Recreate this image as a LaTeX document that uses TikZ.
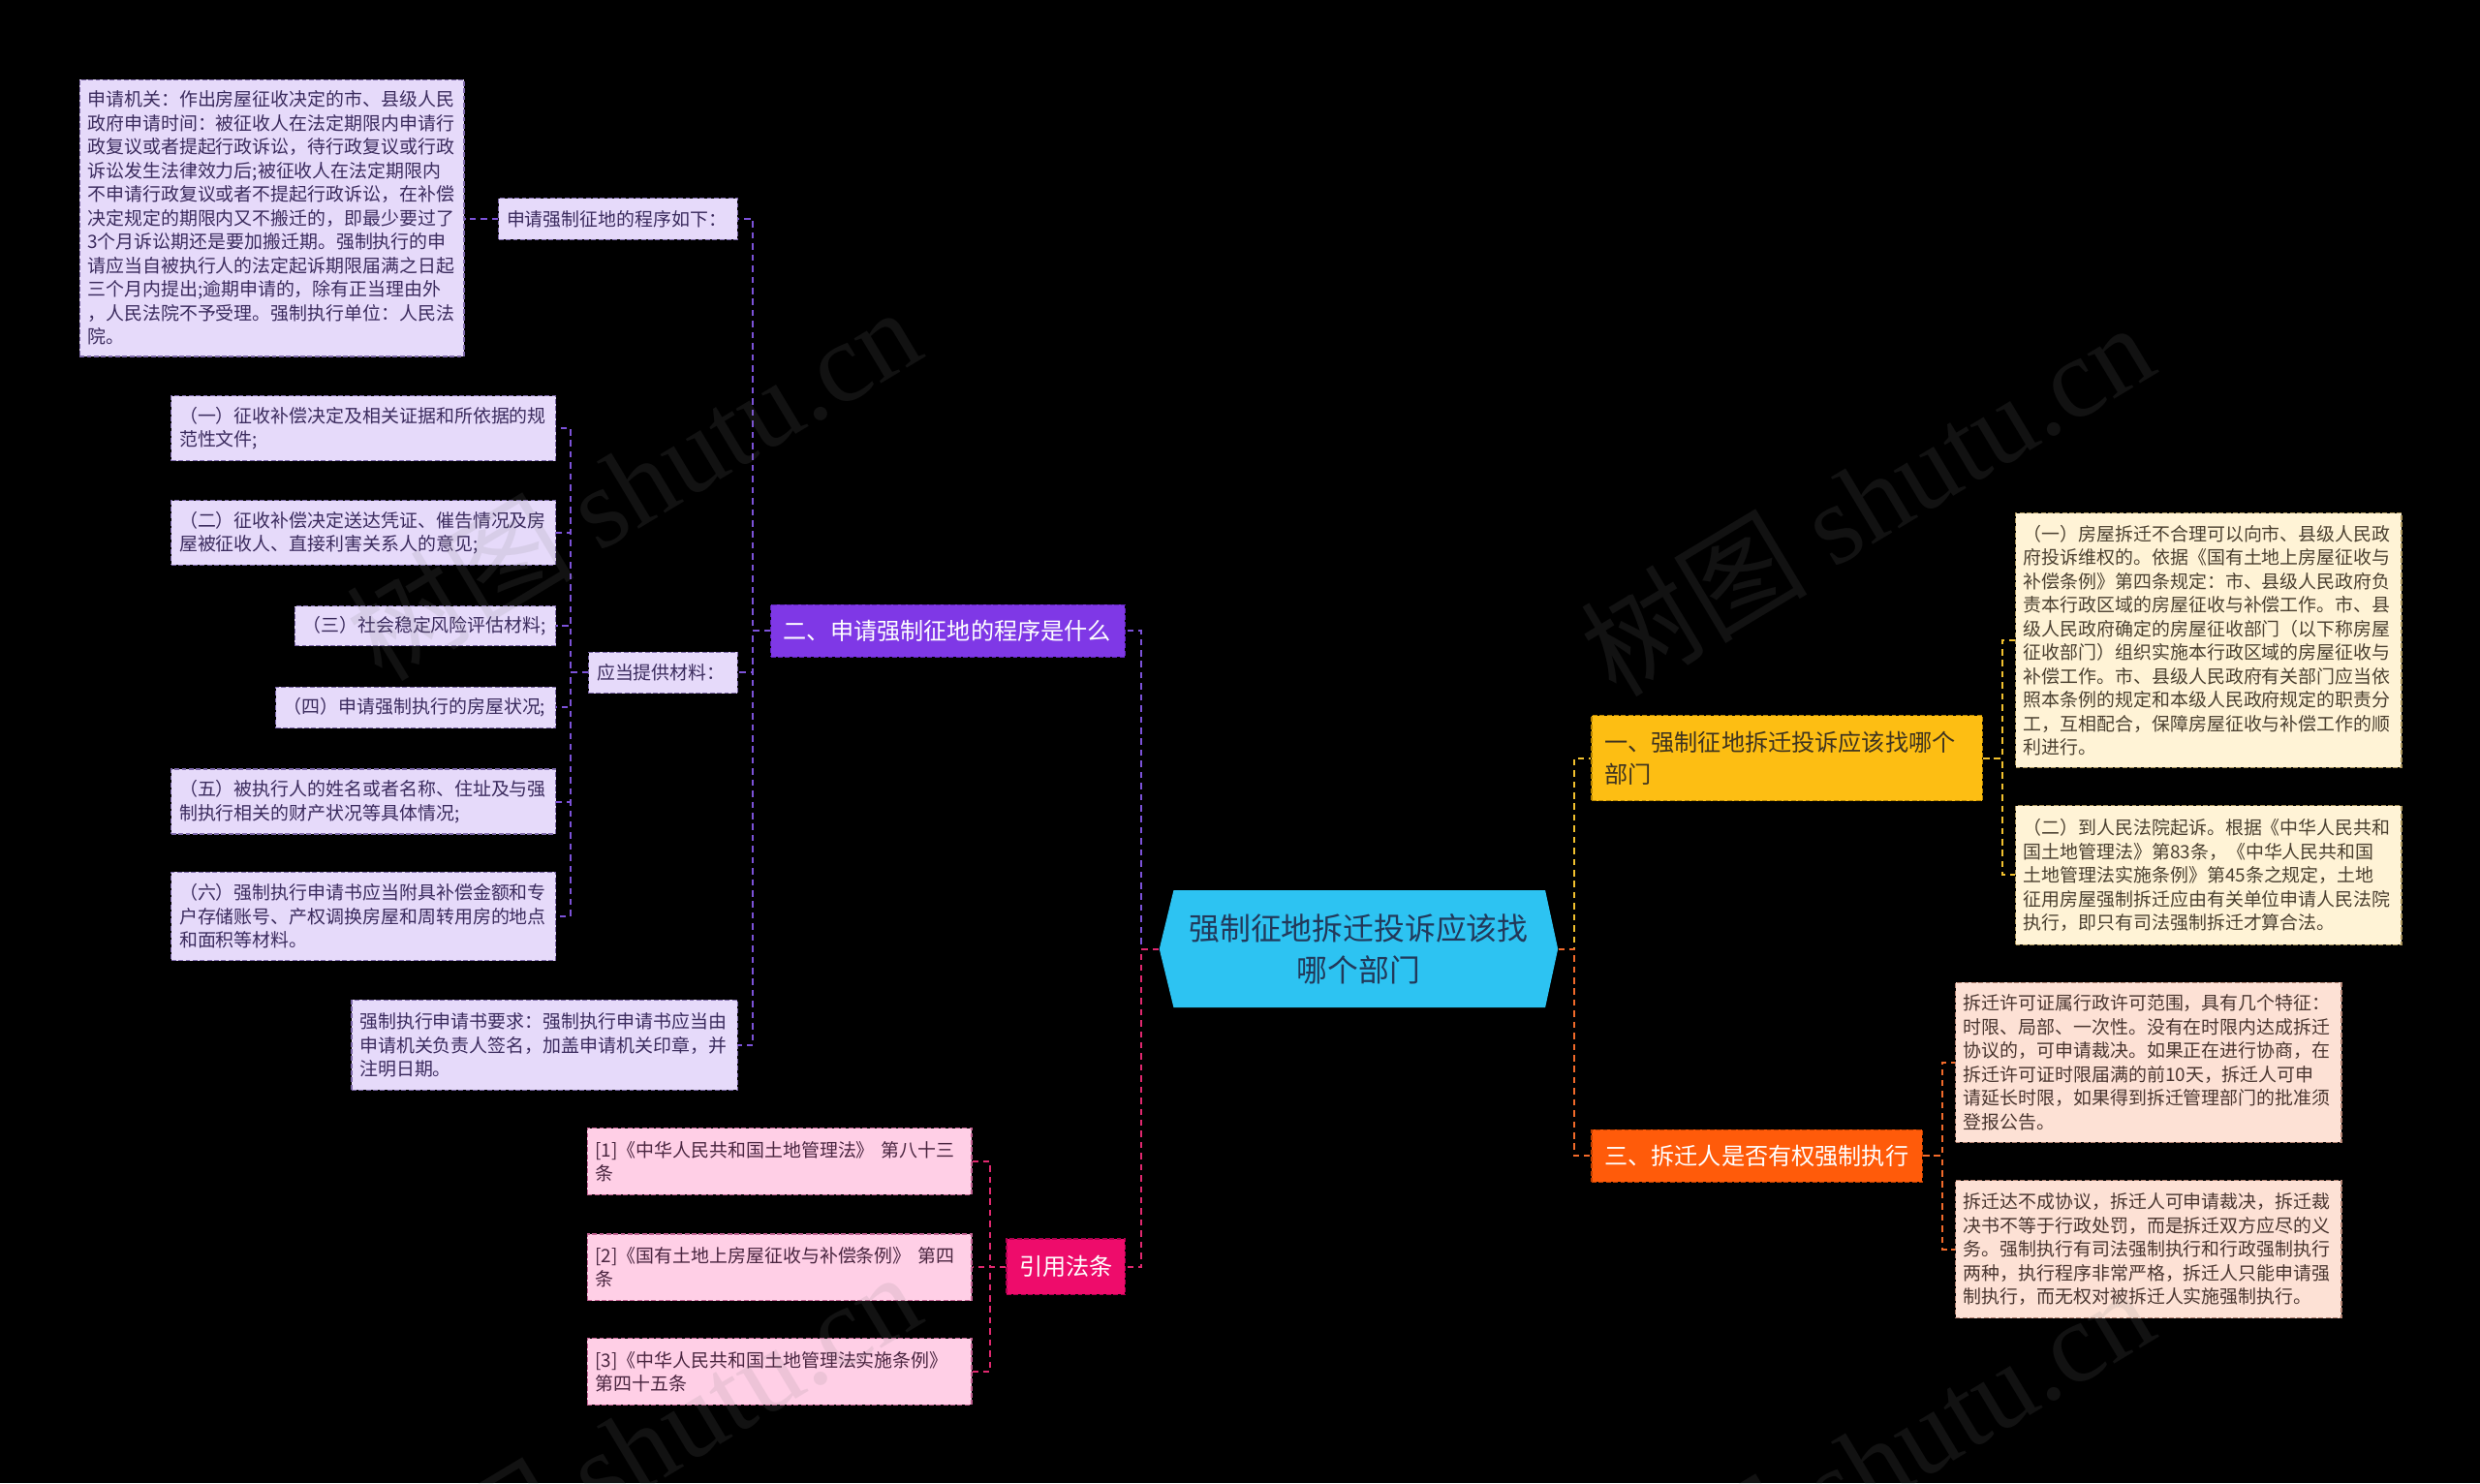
\documentclass[tikz,border=0pt]{standalone}
\usepackage{fontspec}
\setmainfont{Noto Sans CJK SC}
\newfontfamily\wmfont{Liberation Serif}
\definecolor{lavF}{HTML}{E6DAFA}
\definecolor{lavD}{HTML}{7C68A8}
\definecolor{lavT}{HTML}{3B2B5E}
\definecolor{beiF}{HTML}{FFF3D6}
\definecolor{beiD}{HTML}{A8925A}
\definecolor{beiT}{HTML}{4B4030}
\definecolor{pchF}{HTML}{FDE1D5}
\definecolor{pchD}{HTML}{B08070}
\definecolor{pchT}{HTML}{4A3630}
\definecolor{pkF}{HTML}{FFCFE6}
\definecolor{pkD}{HTML}{C06090}
\definecolor{pkT}{HTML}{4A2540}
\definecolor{purN}{HTML}{7F38E6}
\definecolor{purD}{HTML}{5E22B8}
\definecolor{pinkN}{HTML}{EE0C6B}
\definecolor{pinkD}{HTML}{B00050}
\definecolor{ylwN}{HTML}{FDBE13}
\definecolor{ylwD}{HTML}{B88600}
\definecolor{ylwT}{HTML}{3D3320}
\definecolor{orgN}{HTML}{FF5B0A}
\definecolor{orgD}{HTML}{C04000}
\definecolor{cyanN}{HTML}{2DC3F2}
\definecolor{cyanT}{HTML}{22395A}
\definecolor{cPur}{HTML}{7C52D9}
\definecolor{cPink}{HTML}{E0286F}
\definecolor{cYlw}{HTML}{F2C12E}
\definecolor{cOrg}{HTML}{F26A2A}
\tikzset{
  bx/.style={draw, dash pattern=on 3pt off 1.5pt, line width=0.7pt, anchor=north west,
    inner xsep=5pt, inner ysep=1pt, align=left, font=\fontsize{11.6}{15}\selectfont},
  lav/.style={bx, fill=lavF, draw=lavD, text=lavT},
  bei/.style={bx, fill=beiF, draw=beiD, text=beiT},
  pch/.style={bx, fill=pchF, draw=pchD, text=pchT},
  pkb/.style={bx, fill=pkF, draw=pkD, text=pkT},
  br/.style={draw, dash pattern=on 3pt off 1.5pt, line width=0.8pt, anchor=north west,
    inner xsep=8pt, inner ysep=1pt, align=left, font=\fontsize{14.8}{20}\selectfont},
  con/.style={dash pattern=on 4pt off 3pt, line width=1.2pt},
  wm/.style={text=gray, text opacity=0.14, rotate=31, font=\fontsize{72}{72}\selectfont},
}
\begin{document}
\begin{tikzpicture}[x=1pt,y=-1pt]
\fill[black] (0,0) rectangle (1568,938);
\useasboundingbox (0,0) rectangle (1568,938);

% centre
\fill[cyanN] (742,563) -- (977,563) -- (985,600) -- (977,637) -- (742,637) -- (733,600) -- cycle;
\node[minimum width=252pt, minimum height=74pt, inner sep=0pt, align=center, text=cyanT,
  font=\fontsize{19.5}{26}\selectfont] (c) at (859,600) {强制征地拆迁投诉应该找\\哪个部门};

% right branches
\node[br, fill=ylwN, draw=ylwD, text=ylwT, text width=231pt, minimum height=54pt] (b1) at (1006,452)
  {一、强制征地拆迁投诉应该找哪个\\部门};
\node[br, fill=orgN, draw=orgD, text=white, text width=193pt, minimum height=33pt] (b3) at (1006,714)
  {三、拆迁人是否有权强制执行};

\node[bei, text width=234pt, minimum height=161pt] (r1) at (1274,324)
  {（一）房屋拆迁不合理可以向市、县级人民政\\府投诉维权的。依据《国有土地上房屋征收与\\补偿条例》第四条规定：市、县级人民政府负\\责本行政区域的房屋征收与补偿工作。市、县\\级人民政府确定的房屋征收部门（以下称房屋\\征收部门）组织实施本行政区域的房屋征收与\\补偿工作。市、县级人民政府有关部门应当依\\照本条例的规定和本级人民政府规定的职责分\\工，互相配合，保障房屋征收与补偿工作的顺\\利进行。};
\node[bei, text width=234pt, minimum height=88pt] (r2) at (1274,509)
  {（二）到人民法院起诉。根据《中华人民共和\\国土地管理法》第83条，《中华人民共和国\\土地管理法实施条例》第45条之规定，土地\\征用房屋强制拆迁应由有关单位申请人民法院\\执行，即只有司法强制拆迁才算合法。};
\node[pch, text width=234pt, minimum height=101pt] (r3) at (1236,621)
  {拆迁许可证属行政许可范围，具有几个特征：\\时限、局部、一次性。没有在时限内达成拆迁\\协议的，可申请裁决。如果正在进行协商，在\\拆迁许可证时限届满的前10天，拆迁人可申\\请延长时限，如果得到拆迁管理部门的批准须\\登报公告。};
\node[pch, text width=234pt, minimum height=87pt] (r4) at (1236,746)
  {拆迁达不成协议，拆迁人可申请裁决，拆迁裁\\决书不等于行政处罚，而是拆迁双方应尽的义\\务。强制执行有司法强制执行和行政强制执行\\两种，执行程序非常严格，拆迁人只能申请强\\制执行，而无权对被拆迁人实施强制执行。};

% left branches
\node[br, fill=purN, draw=purD, text=white, text width=208pt, minimum height=33pt] (b2) at (487,382)
  {二、申请强制征地的程序是什么};
\node[br, fill=pinkN, draw=pinkD, text=white, text width=59pt, minimum height=35pt] (b4) at (636,783)
  {引用法条};

\node[lav, text width=233pt, minimum height=175pt] (tl) at (50,50)
  {申请机关：作出房屋征收决定的市、县级人民\\政府申请时间：被征收人在法定期限内申请行\\政复议或者提起行政诉讼，待行政复议或行政\\诉讼发生法律效力后;被征收人在法定期限内\\不申请行政复议或者不提起行政诉讼，在补偿\\决定规定的期限内又不搬迁的，即最少要过了\\3个月诉讼期还是要加搬迁期。强制执行的申\\请应当自被执行人的法定起诉期限届满之日起\\三个月内提出;逾期申请的，除有正当理由外\\，人民法院不予受理。强制执行单位：人民法\\院。};
\node[lav, text width=141pt, minimum height=26pt] (p1) at (315,125) {申请强制征地的程序如下：};
\node[lav, text width=84pt, minimum height=26pt] (p2) at (372,412) {应当提供材料：};
\node[lav, text width=234pt, minimum height=57pt] (p3) at (222,632)
  {强制执行申请书要求：强制执行申请书应当由\\申请机关负责人签名，加盖申请机关印章，并\\注明日期。};

\node[lav, text width=233pt, minimum height=41pt] (m1) at (108,250)
  {（一）征收补偿决定及相关证据和所依据的规\\范性文件;};
\node[lav, text width=233pt, minimum height=41pt] (m2) at (108,316)
  {（二）征收补偿决定送达凭证、催告情况及房\\屋被征收人、直接利害关系人的意见;};
\node[lav, text width=155pt, minimum height=25pt] (m3) at (186,383) {（三）社会稳定风险评估材料;};
\node[lav, text width=167pt, minimum height=26pt] (m4) at (174,434) {（四）申请强制执行的房屋状况;};
\node[lav, text width=233pt, minimum height=41pt] (m5) at (108,486)
  {（五）被执行人的姓名或者名称、住址及与强\\制执行相关的财产状况等具体情况;};
\node[lav, text width=233pt, minimum height=56pt] (m6) at (108,551)
  {（六）强制执行申请书应当附具补偿金额和专\\户存储账号、产权调换房屋和周转用房的地点\\和面积等材料。};

\node[pkb, text width=233pt, minimum height=42pt] (q1) at (371,713)
  {[1]《中华人民共和国土地管理法》 第八十三\\条};
\node[pkb, text width=233pt, minimum height=42pt] (q2) at (371,780)
  {[2]《国有土地上房屋征收与补偿条例》 第四\\条};
\node[pkb, text width=233pt, minimum height=42pt] (q3) at (371,846)
  {[3]《中华人民共和国土地管理法实施条例》\\第四十五条};

% connectors
\draw[con, cYlw] (c.east) -- ++(10,0) |- (b1.west);
\draw[con, cOrg] (c.east) -- ++(10,0) |- (b3.west);
\draw[con, cPur] (c.west) -- ++(-11,0) |- (b2.east);
\draw[con, cPink] (c.west) -- ++(-11,0) |- (b4.east);

\foreach \t in {r1,r2} \draw[con, cYlw] (b1.east) -- ++(12,0) |- (\t.west);
\foreach \t in {r3,r4} \draw[con, cOrg] (b3.east) -- ++(12,0) |- (\t.west);
\foreach \t in {p1,p2,p3} \draw[con, cPur] (b2.west) -- ++(-11,0) |- (\t.east);
\draw[con, cPur] (p1.west) -- (tl.east |- p1.west);
\foreach \t in {m1,m2,m3,m4,m5,m6} \draw[con, cPur] (p2.west) -- ++(-11,0) |- (\t.east);
\foreach \t in {q1,q2,q3} \draw[con, cPink] (b4.west) -- ++(-10,0) |- (\t.east);

% watermarks
\node[wm] (w1) at (400,305) {树图 {\wmfont shutu.cn}};
\node[wm] (w2) at (1180,315) {树图 {\wmfont shutu.cn}};
\node[wm] (w3) at (400,915) {树图 {\wmfont shutu.cn}};
\node[wm] (w4) at (1180,925) {树图 {\wmfont shutu.cn}};
\end{tikzpicture}
\end{document}
